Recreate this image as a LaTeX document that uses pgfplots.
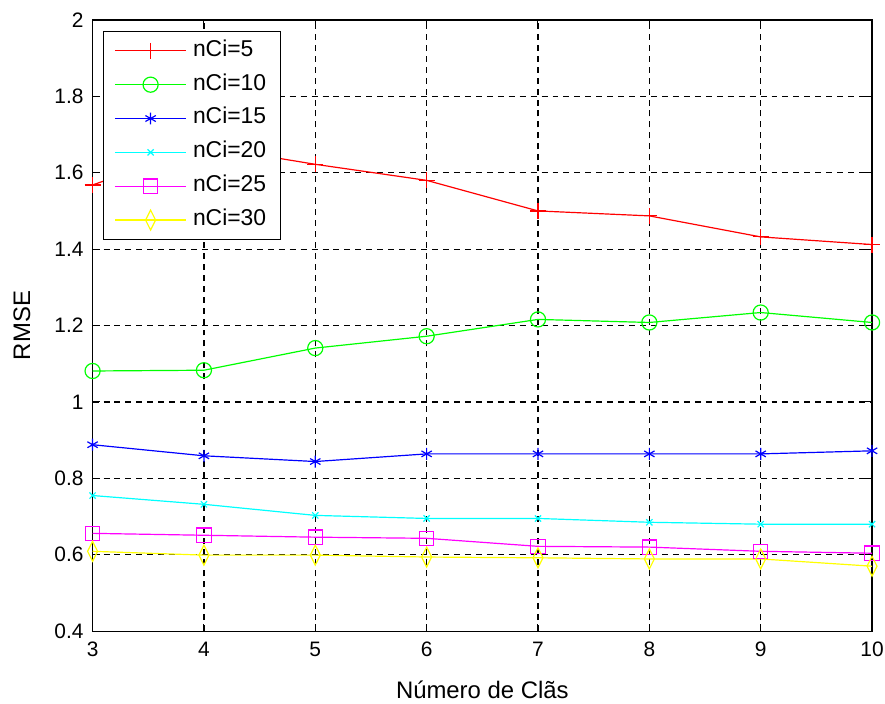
\documentclass[border=0pt]{standalone}
\usepackage{pgfplots}
\pgfplotsset{compat=1.18}
\usepackage{fontspec}
\setmainfont{Liberation Sans}
\definecolor{mred}{RGB}{255,0,0}
\definecolor{mgreen}{RGB}{0,255,0}
\definecolor{mblue}{RGB}{0,0,255}
\definecolor{mcyan}{RGB}{0,255,255}
\definecolor{mmagenta}{RGB}{255,0,255}
\definecolor{myellow}{RGB}{255,255,0}
\begin{document}
\begin{tikzpicture}
\begin{axis}[
  scale only axis,
  width=391.5pt, height=307pt,
  xmin=3, xmax=10, ymin=0.4, ymax=2,
  xtick={3,4,5,6,7,8,9,10},
  ytick={0.4,0.6,0.8,1,1.2,1.4,1.6,1.8,2},
  /pgf/number format/assume math mode=true,
  tick label style={font=\fontsize{10.5}{12.5}\selectfont, black},
  xticklabel style={yshift=-2pt},
  yticklabel style={xshift=-1pt},
  tick align=inside,
  major tick length=3.5pt,
  tick style={black, line width=0.5pt},
  axis line style={black, line width=0.6pt},
  grid=major,
  major grid style={black, dash pattern=on 3pt off 2.5pt, line width=0.6pt},
  clip=false,
  xlabel={Número de Clãs},
  ylabel={RMSE},
  every axis x label/.style={at={(axis description cs:0.5,0)}, anchor=center, yshift=-29.5pt, font=\fontsize{12}{14}\selectfont},
  every axis y label/.style={at={(axis description cs:-0.0907,0.5)}, anchor=center, rotate=90, font=\fontsize{12}{14}\selectfont},
  legend cell align=left,
  legend style={draw=black, line width=0.5pt, fill=white, at={(0.013,0.982)}, anchor=north west,
    inner xsep=5.5pt, inner ysep=3pt, row sep=3.5pt, column sep=1.5pt,
    nodes={inner sep=1.5pt, text height=8pt, text depth=2.5pt, font=\fontsize{11.5}{13}\selectfont}},
  legend image code/.code={\draw[mark repeat=2,mark phase=2,#1] plot coordinates {(0pt,0pt) (18pt,0pt) (36pt,0pt)};},
  every axis plot/.append style={line width=0.6pt},
]
\addplot[color=mred, mark=+, mark size=4pt] coordinates {(3,1.568) (4,1.670) (5,1.622) (6,1.580) (7,1.500) (8,1.487) (9,1.432) (10,1.412)};
\addlegendentry{nCi=5}
\addplot[color=mgreen, mark=o, mark size=3.8pt] coordinates {(3,1.081) (4,1.083) (5,1.141) (6,1.172) (7,1.216) (8,1.208) (9,1.234) (10,1.208)};
\addlegendentry{nCi=10}
\addplot[color=mblue, mark=asterisk, mark size=3pt] coordinates {(3,0.888) (4,0.859) (5,0.844) (6,0.864) (7,0.864) (8,0.864) (9,0.864) (10,0.872)};
\addlegendentry{nCi=15}
\addplot[color=mcyan, mark=x, mark size=2.2pt] coordinates {(3,0.755) (4,0.732) (5,0.703) (6,0.695) (7,0.695) (8,0.685) (9,0.680) (10,0.680)};
\addlegendentry{nCi=20}
\addplot[color=mmagenta, mark=square, mark size=3.6pt] coordinates {(3,0.656) (4,0.651) (5,0.646) (6,0.643) (7,0.622) (8,0.620) (9,0.609) (10,0.604)};
\addlegendentry{nCi=25}
\addplot[color=myellow, mark=diamond, mark size=5pt, mark options={xscale=0.67}] coordinates {(3,0.609) (4,0.599) (5,0.599) (6,0.594) (7,0.592) (8,0.589) (9,0.589) (10,0.570)};
\addlegendentry{nCi=30}
\end{axis}
\pgfresetboundingbox
\path[use as bounding box] (-46.5pt,-36.5pt) rectangle (398pt,317pt);
\end{tikzpicture}
\end{document}
